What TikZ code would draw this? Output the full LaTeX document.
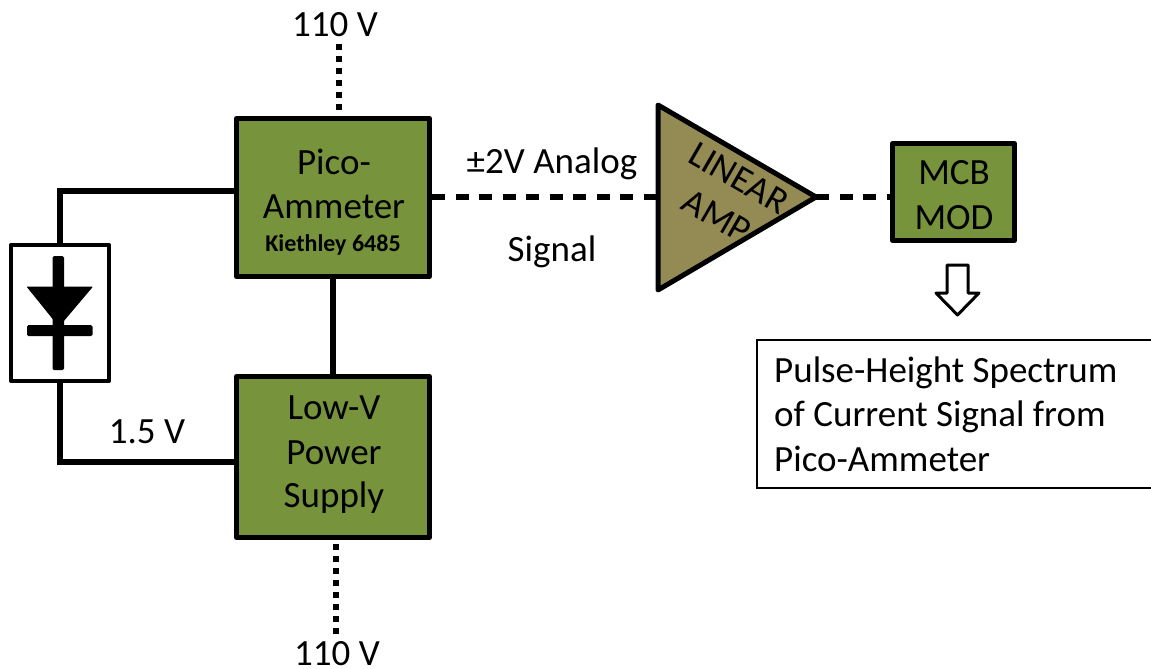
\documentclass[tikz,border=0pt]{standalone}
\usepackage{fontspec}
\setmainfont{Carlito}
\definecolor{blkgreen}{HTML}{77933C}
\definecolor{amp}{HTML}{948A54}
\begin{document}
\begin{tikzpicture}[x=1pt,y=-1pt,
  blk/.style={draw=black,line width=5pt,fill=blkgreen,line join=round,inner sep=0pt},
  wire/.style={line width=5.5pt},
  dashwire/.style={line width=6pt,dash pattern=on 13pt off 10.5pt},
  dotwire/.style={line width=6pt,dash pattern=on 6pt off 6pt},
  lbl/.style={inner sep=0pt,anchor=base,font=\fontsize{37}{37}\selectfont,text=black},
  ]
\useasboundingbox (0,0) rectangle (1151,669);
\coordinate (t1) at (339,44);
\coordinate (t2) at (336,634);
% blocks
\node[blk,minimum width=193pt,minimum height=158pt] (pico) at (333,197.5) {};
\node[blk,minimum width=193pt,minimum height=161pt] (low) at (333,457) {};
\node[blk,minimum width=122pt,minimum height=97pt] (mcb) at (953.5,192) {};
\node[draw=black,line width=4.5pt,fill=white,minimum width=98pt,minimum height=136pt,inner sep=0pt,line join=round] (det) at (60,313) {};
\coordinate (ampL) at (658,197);
\coordinate (ampR) at (816,197);
\draw[line width=5pt,line join=round,fill=amp] (658,105) -- (ampR) -- (658,290) -- cycle;
% connectors
\draw[dotwire] (t1) -- (t1 |- pico.north);
\draw[dotwire] (t2) -- (t2 |- low.south);
\draw[wire] (det.north) -- (det.north |- 0,191) -- (pico.west |- 0,191);
\draw[wire] (det.south) -- (det.south |- 0,462) -- (low.west |- 0,462);
\draw[wire] (pico) -- (low);
\draw[dashwire] (pico.east |- ampL) -- (ampL);
\draw[dashwire] (ampR) -- (mcb.west |- ampR);
% diode
\fill[rounded corners=1.5pt] (52.5,256) rectangle (64,370);
\fill[line join=round,draw=black,line width=1pt] (27.5,287) -- (92,287) -- (59,326) -- cycle;
\fill[rounded corners=1.5pt] (27,325) rectangle (92.5,336);
% hollow arrow
\draw[line width=3pt,line join=round,fill=white] (947,265) -- (968,265) -- (968,293) -- (979,293) -- (957.5,315) -- (936,293) -- (947,293) -- cycle;
% result box
\node[draw=black,line width=2pt,fill=white,minimum width=396pt,minimum height=148pt,inner sep=0pt] (res) at (955,414) {};
% text
\node[lbl] (v1) at (335,37) {110 V};
\node[lbl] (v2) at (337,665) {110 V};
\node[lbl] at (334,174.5) {Pico-};
\node[lbl] at (334,218.5) {Ammeter};
\node[lbl,font=\fontsize{24}{24}\selectfont\bfseries] at (333,251) {Kiethley 6485};
\node[lbl] at (334,419.5) {Low-V};
\node[lbl] at (334,464) {Power};
\node[lbl] at (334,507.5) {Supply};
\node[lbl] at (147,443) {1.5 V};
\node[lbl] at (552,173) {±2V Analog};
\node[lbl] at (552,261.5) {Signal};
\node[lbl] at (954,184) {MCB};
\node[lbl] at (954,229) {MOD};
\node[inner sep=0pt,font=\fontsize{37}{44}\selectfont,align=center,rotate=-30] (amptext) at (728,197) {LINEAR\\AMP};
\node[lbl,anchor=base west] at (774,382.5) {Pulse-Height Spectrum};
\node[lbl,anchor=base west] at (774,426.5) {of Current Signal from};
\node[lbl,anchor=base west] at (774,471) {Pico-Ammeter};
\end{tikzpicture}
\end{document}
